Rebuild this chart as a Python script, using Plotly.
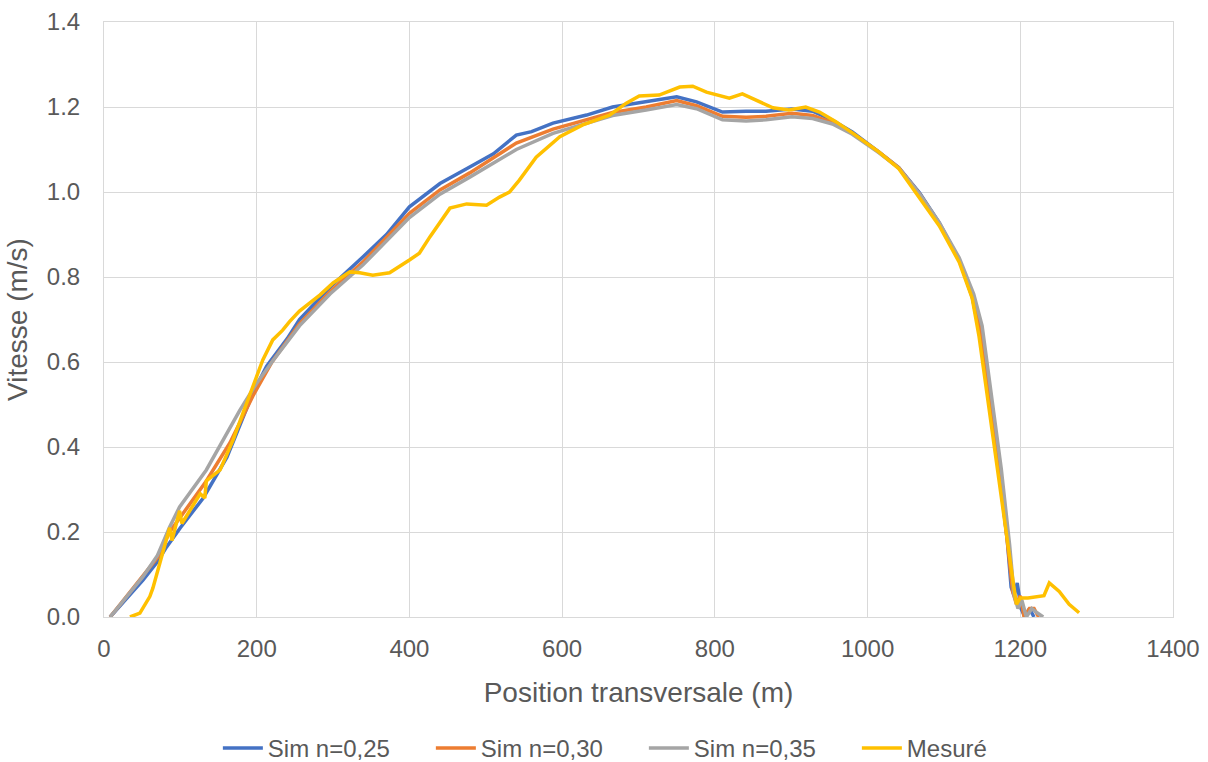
import plotly.graph_objects as go

# Simulated velocity profiles, Manning n = 0.25
x_n025 = [8, 30, 51, 70, 82, 100, 130, 161, 195, 213, 240, 256, 296, 339, 370, 400, 440, 479, 510, 540,
          560, 588, 632, 666, 710, 750, 776, 810, 841, 867, 901, 928, 954, 980, 1015, 1041, 1068, 1094,
          1120, 1137, 1146, 1159, 1172, 1183, 1188, 1192, 1196, 1201, 1206, 1212, 1218]
v_n025 = [0.0, 0.045, 0.087, 0.13, 0.165, 0.21, 0.28, 0.376, 0.527, 0.59, 0.655, 0.70, 0.776, 0.847, 0.90,
          0.965, 1.02, 1.059, 1.09, 1.134, 1.142, 1.162, 1.181, 1.20, 1.212, 1.224, 1.212, 1.188, 1.19,
          1.19, 1.195, 1.19, 1.169, 1.141, 1.094, 1.057, 0.998, 0.927, 0.84, 0.753, 0.675, 0.51, 0.346,
          0.18, 0.07, 0.05, 0.08, 0.02, 0.0, 0.02, 0.0]

# n = 0.30
x_n030 = [8, 30, 51, 70, 86, 100, 134, 165, 195, 220, 256, 296, 339, 400, 440, 479, 540, 588, 632, 666,
          710, 750, 776, 810, 841, 867, 901, 928, 954, 980, 1015, 1041, 1068, 1094, 1120, 1137, 1148,
          1160, 1173, 1184, 1190, 1195, 1200, 1205, 1212, 1218, 1224]
v_n030 = [0.0, 0.05, 0.10, 0.14, 0.20, 0.235, 0.32, 0.41, 0.52, 0.60, 0.69, 0.765, 0.835, 0.95, 1.005,
          1.045, 1.115, 1.148, 1.17, 1.187, 1.20, 1.215, 1.203, 1.178, 1.176, 1.178, 1.185, 1.18, 1.163,
          1.138, 1.094, 1.057, 0.995, 0.925, 0.84, 0.755, 0.68, 0.51, 0.345, 0.17, 0.06, 0.03, 0.05,
          0.0, 0.02, 0.02, 0.0]

# n = 0.35
x_n035 = [8, 30, 51, 70, 86, 99, 134, 178, 200, 220, 256, 296, 339, 400, 440, 479, 540, 588, 632, 666,
          710, 750, 776, 810, 841, 867, 901, 928, 954, 980, 1015, 1041, 1068, 1094, 1120, 1139, 1150,
          1162, 1175, 1186, 1192, 1197, 1202, 1208, 1215, 1222, 1230]
v_n035 = [0.0, 0.048, 0.095, 0.145, 0.212, 0.259, 0.346, 0.487, 0.55, 0.60, 0.685, 0.76, 0.828, 0.94,
          0.995, 1.035, 1.10, 1.138, 1.162, 1.18, 1.193, 1.206, 1.196, 1.17, 1.167, 1.17, 1.177, 1.173,
          1.16, 1.136, 1.092, 1.056, 0.996, 0.928, 0.845, 0.76, 0.685, 0.52, 0.35, 0.17, 0.05, 0.02,
          0.04, 0.0, 0.02, 0.01, 0.0]

# Measured profile
x_mes = [34, 47, 60, 64, 73, 82, 86, 89, 93, 99, 102, 126, 132, 134, 152, 169, 182, 195, 208, 221, 234,
         243, 256, 283, 300, 322, 335, 352, 374, 400, 413, 427, 444, 453, 475, 501, 518, 531, 544, 566,
         597, 627, 662, 684, 701, 727, 754, 771, 789, 819, 836, 858, 876, 897, 919, 937, 959, 980, 1015,
         1041, 1072, 1094, 1120, 1137, 1146, 1159, 1172, 1183, 1190, 1195, 1200, 1210, 1225, 1231, 1238,
         1251, 1264, 1277]
v_mes = [0.0, 0.009, 0.048, 0.068, 0.126, 0.18, 0.21, 0.18, 0.21, 0.25, 0.22, 0.29, 0.28, 0.32, 0.346,
         0.416, 0.48, 0.54, 0.605, 0.652, 0.675, 0.695, 0.72, 0.758, 0.786, 0.812, 0.81, 0.804, 0.81,
         0.84, 0.856, 0.895, 0.94, 0.962, 0.972, 0.969, 0.988, 1.0, 1.028, 1.082, 1.13, 1.158, 1.181,
         1.209, 1.226, 1.228, 1.247, 1.249, 1.235, 1.221, 1.231, 1.214, 1.198, 1.193, 1.20, 1.188,
         1.165, 1.139, 1.094, 1.055, 0.974, 0.92, 0.835, 0.75, 0.66, 0.49, 0.32, 0.17, 0.09, 0.03,
         0.045, 0.045, 0.05, 0.05, 0.08, 0.06, 0.03, 0.01]

series = [
    ("Sim n=0,25", x_n025, v_n025, "#4472C4"),
    ("Sim n=0,30", x_n030, v_n030, "#ED7D31"),
    ("Sim n=0,35", x_n035, v_n035, "#A5A5A5"),
    ("Mesuré", x_mes, v_mes, "#FFC000"),
]

fig = go.Figure()
for name, xs, ys, color in series:
    fig.add_trace(go.Scatter(x=xs, y=ys, mode="lines", name=name,
                             line=dict(color=color, width=3.5)))

family = "Liberation Sans, Arial, sans-serif"
tick_font = dict(family=family, size=24, color="#595959")
title_font = dict(family=family, size=28, color="#595959")
grid = "#d9d9d9"

fig.update_layout(
    width=1208, height=762,
    margin=dict(l=104, r=35, t=22, b=145, autoexpand=False),
    paper_bgcolor="white", plot_bgcolor="white",
    font=tick_font,
    showlegend=True,
    legend=dict(orientation="h", xref="container", yref="container",
                x=0.533, xanchor="center", y=0.018, yanchor="middle",
                font=dict(family=family, size=24, color="#595959"),
                itemwidth=40, entrywidth=158, entrywidthmode="pixels"),
    xaxis=dict(range=[0, 1400], dtick=200, tick0=0, showgrid=True, gridcolor=grid, gridwidth=1,
               showline=True, linecolor=grid, mirror=True, zeroline=False, ticks="",
               ticklabelstandoff=10, automargin=False,
               title=dict(text="Position transversale (m)", font=title_font, standoff=21),
               tickfont=tick_font),
    yaxis=dict(range=[0, 1.4], dtick=0.2, tick0=0, tickformat=".1f", showgrid=True, gridcolor=grid,
               gridwidth=1, showline=True, linecolor=grid, mirror=True, zeroline=False, ticks="",
               ticklabelstandoff=18, automargin=False,
               title=dict(text="Vitesse (m/s)", font=title_font, standoff=11),
               tickfont=tick_font),
)

fig.write_html("out.html")
